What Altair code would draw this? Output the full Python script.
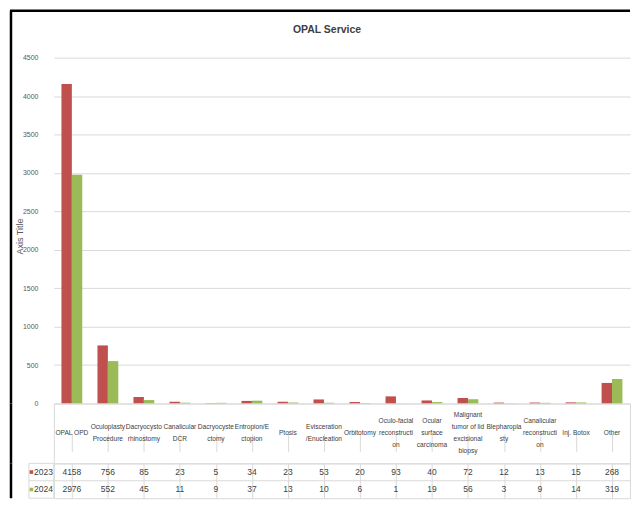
import altair as alt
import pandas as pd

categories = [
    "OPAL OPD", "Oculoplasty\nProcedure", "Dacryocysto\nrhinostomy", "Canalicular\nDCR",
    "Dacryocyste\nctomy", "Entropion/E\nctopion", "Ptosis", "Evisceration\n/Enucleation",
    "Orbitotomy", "Oculo-facial\nreconstructi\non", "Ocular\nsurface\ncarcinoma",
    "Malignant\ntumor of lid\nexcisional\nbiopsy", "Blepharopla\nsty",
    "Canalicular\nreconstructi\non", "Inj. Botox", "Other",
]
values_2023 = [4158, 756, 85, 23, 5, 34, 23, 53, 20, 93, 40, 72, 12, 13, 15, 268]
values_2024 = [2976, 552, 45, 11, 9, 37, 13, 10, 6, 1, 19, 56, 3, 9, 14, 319]
years = ["2023", "2024"]
colors = ["#C0504D", "#9BBB59"]
y_ticks = [0, 500, 1000, 1500, 2000, 2500, 3000, 3500, 4000, 4500]

rows = []
for c, a, b in zip(categories, values_2023, values_2024):
    rows.append({"cat": c, "year": "2023", "value": a})
    rows.append({"cat": c, "year": "2024", "value": b})
df = pd.DataFrame(rows)
one = pd.DataFrame({"k": [0]})
cat_df = pd.DataFrame({"cat": categories})
year_df = pd.DataFrame({"year": years})

W, H, HDR, ROWS = 578, 347, 60, 35
LH = 12
FONT = "Liberation Sans, Arial, sans-serif"
GRID = "#D9D9D9"
TXT = "#404040"
LBL = "#595959"


def xcat(axis):
    return alt.X("cat:N", sort=categories,
                 scale=alt.Scale(paddingInner=0, paddingOuter=0), axis=axis)


table_axis = alt.Axis(grid=True, bandPosition=0, gridColor=GRID, labels=False,
                      ticks=False, domain=False, title=None)
color = alt.Color("year:N", scale=alt.Scale(domain=years, range=colors), legend=None)

bars = alt.Chart(df).mark_bar().encode(
    x=xcat(None),
    xOffset=alt.XOffset("year:N", sort=years,
                        scale=alt.Scale(paddingInner=0, paddingOuter=0.73)),
    y=alt.Y("value:Q", scale=alt.Scale(domain=[0, 4500]),
            axis=alt.Axis(values=y_ticks, format="d", grid=True, gridColor=GRID,
                          domain=False, ticks=False, labelPadding=16, labelFont=FONT,
                          labelFontSize=7, labelColor=LBL, title="Axis Title",
                          titleFont=FONT, titleFontSize=9,
                          titleFontWeight="normal", titleColor=LBL,
                          titleX=-34, titleY=179, titleBaseline="middle")),
    color=color,
)
frame_l1 = alt.Chart(one).mark_rule(color="black", strokeWidth=2.5).encode(
    x=alt.value(-43), y=alt.value(-47), y2=alt.value(H))
frame_t = alt.Chart(one).mark_rule(color="black", strokeWidth=2.5).encode(
    x=alt.value(-44), x2=alt.value(W), y=alt.value(-47))
top = alt.layer(bars, frame_l1, frame_t).properties(width=W, height=H)

header_txt = alt.Chart(cat_df).transform_calculate(
    nl="length(split(datum.cat, '\\n'))"
).mark_text(
    font=FONT, fontSize=6.6, color=TXT, lineBreak="\n", lineHeight=LH,
    baseline="middle").encode(
    x=xcat(table_axis),
    y=alt.Y("nl:Q", scale=alt.Scale(domain=[1, 4], range=[HDR / 2, HDR / 2 - 1.5 * LH]),
            axis=None),
    text="cat:N")
frame_l2 = alt.Chart(one).mark_rule(color="black", strokeWidth=2.5).encode(
    x=alt.value(-43), y=alt.value(0), y2=alt.value(HDR))
header = alt.layer(header_txt, frame_l2).properties(
    width=W, height=HDR, view=alt.ViewBackground(stroke=GRID, strokeWidth=1))

yrow = alt.Y("year:N", sort=years, scale=alt.Scale(paddingInner=0, paddingOuter=0),
             axis=alt.Axis(labelPadding=1.5, ticks=False, domain=False, grid=False,
                           labelFont=FONT, labelFontSize=8.5, labelColor=TXT,
                           title=None))
val_txt = alt.Chart(df).mark_text(font=FONT, fontSize=8.5, color=TXT,
                                  baseline="middle").encode(
    x=xcat(table_axis), y=yrow, text="value:Q")
row_line = alt.Chart(pd.DataFrame({"year": ["2024"]})).mark_rule(color=GRID).encode(
    y=alt.Y("year:N", sort=years, bandPosition=0), x=alt.value(-25), x2=alt.value(W))
legend_box = alt.Chart(one).mark_rect(fill="transparent", stroke=GRID).encode(
    x=alt.value(-25), x2=alt.value(0), y=alt.value(0), y2=alt.value(ROWS))
squares = alt.Chart(year_df).mark_square(size=13, opacity=1).encode(
    x=alt.value(-22.5), y=alt.Y("year:N", sort=years), color=color)
frame_l3 = alt.Chart(one).mark_rule(color="black", strokeWidth=2.5).encode(
    x=alt.value(-43), y=alt.value(0), y2=alt.value(ROWS))
vals = alt.layer(legend_box, row_line, val_txt, squares, frame_l3).properties(
    width=W, height=ROWS, view=alt.ViewBackground(stroke=GRID, strokeWidth=1))

chart = alt.vconcat(top, header, vals, spacing=0, bounds="flush").resolve_scale(
    y="independent", x="independent"
).properties(
    title=alt.TitleParams("OPAL Service", font=FONT, fontSize=10.5, fontWeight="bold",
                          color=TXT, anchor="middle", offset=0, dy=27, dx=7)
).configure(padding=0).configure_view(stroke="transparent")

chart.save("out.html", embed_options={"renderer": "svg", "actions": False})
